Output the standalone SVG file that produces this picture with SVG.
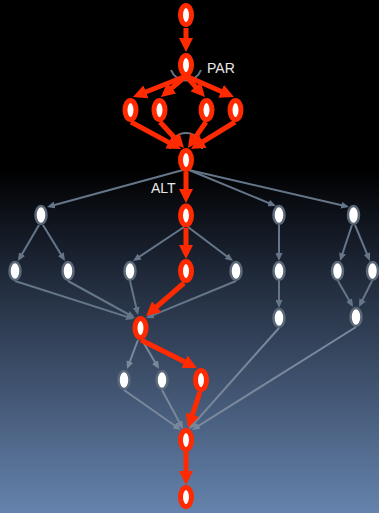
<svg xmlns="http://www.w3.org/2000/svg" width="379" height="513" viewBox="0 0 379 513">
<defs>
<linearGradient id="bg" x1="0" y1="0" x2="0" y2="1">
<stop offset="0" stop-color="#000000"/>
<stop offset="0.33" stop-color="#000000"/>
<stop offset="0.5" stop-color="#1a2230"/>
<stop offset="1" stop-color="#6583ad"/>
</linearGradient>
<marker id="ar" markerUnits="userSpaceOnUse" markerWidth="14" markerHeight="14" refX="9" refY="7" orient="auto" viewBox="0 0 14 14">
<path d="M0,0 L14,7 L0,14 z" fill="#ff2a00"/>
</marker>
<marker id="ag" markerUnits="userSpaceOnUse" markerWidth="8" markerHeight="7" refX="5" refY="3.5" orient="auto" viewBox="0 0 8 7">
<path d="M0,0 L8,3.5 L0,7 z" fill="#66768a"/>
</marker>
<marker id="af" markerUnits="userSpaceOnUse" markerWidth="8" markerHeight="7" refX="5" refY="3.5" orient="auto" viewBox="0 0 8 7">
<path d="M0,0 L8,3.5 L0,7 z" fill="#7a889c"/>
</marker>
</defs>
<style>
.g{stroke:#66768a;stroke-width:2;fill:none;marker-end:url(#ag)}
.f{stroke:#7a889c;stroke-width:2;fill:none;marker-end:url(#af)}
.r{stroke:#ff2a00;stroke-width:5;fill:none;marker-end:url(#ar)}
.arc{stroke:#66768a;stroke-width:2;fill:none}
.rn{fill:#ffffff;stroke:#ff2a00;stroke-width:5}
.gn{fill:#ffffff;stroke:#5b6878;stroke-width:2.5}
.lbl{font-family:"Liberation Sans",Arial,sans-serif;font-size:14px;fill:#e8e8e8}
</style>
<rect x="0" y="0" width="379" height="513" fill="url(#bg)"/>
<g id="connectors">
<path class="arc" d="M171,70 A16,16 0 0 0 201,70"/>
<path class="arc" d="M170,149 A16,16 0 0 1 202,149"/>
<line class="g" x1="183" y1="170" x2="49.9" y2="206.2"/>
<line class="g" x1="189" y1="170" x2="273.2" y2="204.9"/>
<line class="g" x1="189" y1="170" x2="346.1" y2="206.3"/>
<line class="g" x1="39" y1="225" x2="19.5" y2="258.4"/>
<line class="g" x1="43" y1="225" x2="63.4" y2="258.4"/>
<line class="g" x1="184" y1="227" x2="135.5" y2="259.3"/>
<line class="g" x1="188" y1="227" x2="230.6" y2="259.2"/>
<line class="g" x1="279" y1="225" x2="279" y2="258"/>
<line class="g" x1="279" y1="281" x2="279" y2="305"/>
<line class="g" x1="352" y1="225" x2="341" y2="258.2"/>
<line class="g" x1="355" y1="225" x2="368.8" y2="258.2"/>
<line class="g" x1="338" y1="281" x2="351.5" y2="304.4"/>
<line class="g" x1="372" y1="281" x2="360.3" y2="304.3"/>
<line class="g" x1="15" y1="281" x2="131.1" y2="318.1"/>
<line class="g" x1="68" y1="281" x2="132.4" y2="316.5"/>
<line class="g" x1="130" y1="281" x2="137.3" y2="312.1"/>
<line class="g" x1="236" y1="281" x2="148.8" y2="316.9"/>
<line class="f" x1="138" y1="340" x2="128.1" y2="366.2"/>
<line class="f" x1="142" y1="340" x2="157.5" y2="366.4"/>
<line class="f" x1="124" y1="390" x2="178.5" y2="428.3"/>
<line class="f" x1="162" y1="390" x2="181.6" y2="426.4"/>
<line class="f" x1="279" y1="328" x2="191" y2="426.8"/>
<line class="f" x1="356" y1="327" x2="194.5" y2="428.4"/>
<line class="r" x1="186" y1="28" x2="186" y2="47"/>
<line class="r" x1="186" y1="76" x2="137.6" y2="95.2"/>
<line class="r" x1="186" y1="76" x2="164.8" y2="93.8"/>
<line class="r" x1="186" y1="76" x2="201.6" y2="93.3"/>
<line class="r" x1="186" y1="76" x2="229.4" y2="95"/>
<line class="r" x1="131" y1="122" x2="176.6" y2="146.6"/>
<line class="r" x1="160" y1="122" x2="180.6" y2="144.3"/>
<line class="r" x1="206" y1="122" x2="190.8" y2="143.9"/>
<line class="r" x1="235" y1="122" x2="195.3" y2="146.4"/>
<line class="r" x1="186" y1="172" x2="186" y2="198"/>
<line class="r" x1="186" y1="228" x2="186" y2="254"/>
<line class="r" x1="184" y1="283" x2="149.8" y2="312.7"/>
<line class="r" x1="141" y1="340" x2="192.5" y2="365.8"/>
<line class="r" x1="200" y1="392" x2="189.6" y2="423.3"/>
<line class="r" x1="186" y1="452" x2="186" y2="480"/>
</g>
<g id="n0"><ellipse class="rn" cx="186" cy="15" rx="5.5" ry="9.5"/></g>
<g id="n1"><ellipse class="rn" cx="186" cy="65" rx="5.5" ry="9.5"/></g>
<g id="p1"><ellipse class="rn" cx="130.5" cy="110" rx="5.5" ry="9.5"/></g>
<g id="p2"><ellipse class="rn" cx="159.5" cy="110" rx="5.5" ry="9.5"/></g>
<g id="p3"><ellipse class="rn" cx="206.5" cy="110" rx="5.5" ry="9.5"/></g>
<g id="p4"><ellipse class="rn" cx="235.5" cy="110" rx="5.5" ry="9.5"/></g>
<g id="j"><ellipse class="rn" cx="186" cy="160" rx="5.5" ry="9.5"/></g>
<g id="a"><ellipse class="rn" cx="186" cy="215.5" rx="5.5" ry="9.5"/></g>
<g id="b"><ellipse class="rn" cx="186" cy="271" rx="5.5" ry="9.5"/></g>
<g id="c"><ellipse class="rn" cx="140.5" cy="328" rx="5.5" ry="9.5"/></g>
<g id="d"><ellipse class="rn" cx="201" cy="380" rx="5.5" ry="9.5"/></g>
<g id="e"><ellipse class="rn" cx="186" cy="440" rx="5.5" ry="9.5"/></g>
<g id="f"><ellipse class="rn" cx="186" cy="497" rx="5.5" ry="9.5"/></g>
<g id="l1"><ellipse class="gn" cx="41" cy="215" rx="5.5" ry="9"/></g>
<g id="l1a"><ellipse class="gn" cx="15" cy="271" rx="5.5" ry="9"/></g>
<g id="l1b"><ellipse class="gn" cx="68" cy="271" rx="5.5" ry="9"/></g>
<g id="m1"><ellipse class="gn" cx="130" cy="271" rx="5.5" ry="9"/></g>
<g id="m2"><ellipse class="gn" cx="236" cy="271" rx="5.5" ry="9"/></g>
<g id="r1"><ellipse class="gn" cx="279" cy="215" rx="5.5" ry="9"/></g>
<g id="r1a"><ellipse class="gn" cx="279" cy="271" rx="5.5" ry="9"/></g>
<g id="r1b"><ellipse class="gn" cx="279" cy="318" rx="5.5" ry="9"/></g>
<g id="s1"><ellipse class="gn" cx="353.5" cy="215" rx="5.5" ry="9"/></g>
<g id="s1a"><ellipse class="gn" cx="337.5" cy="271" rx="5.5" ry="9"/></g>
<g id="s1b"><ellipse class="gn" cx="372.5" cy="271" rx="5.5" ry="9"/></g>
<g id="s1c"><ellipse class="gn" cx="356" cy="317" rx="5.5" ry="9"/></g>
<g id="c1"><ellipse class="gn" cx="124" cy="380" rx="5.5" ry="9"/></g>
<g id="c2"><ellipse class="gn" cx="162" cy="380" rx="5.5" ry="9"/></g>
<g id="labels">
<text class="lbl" x="207" y="73">PAR</text>
<text class="lbl" x="151" y="193">ALT</text>
</g>
</svg>
